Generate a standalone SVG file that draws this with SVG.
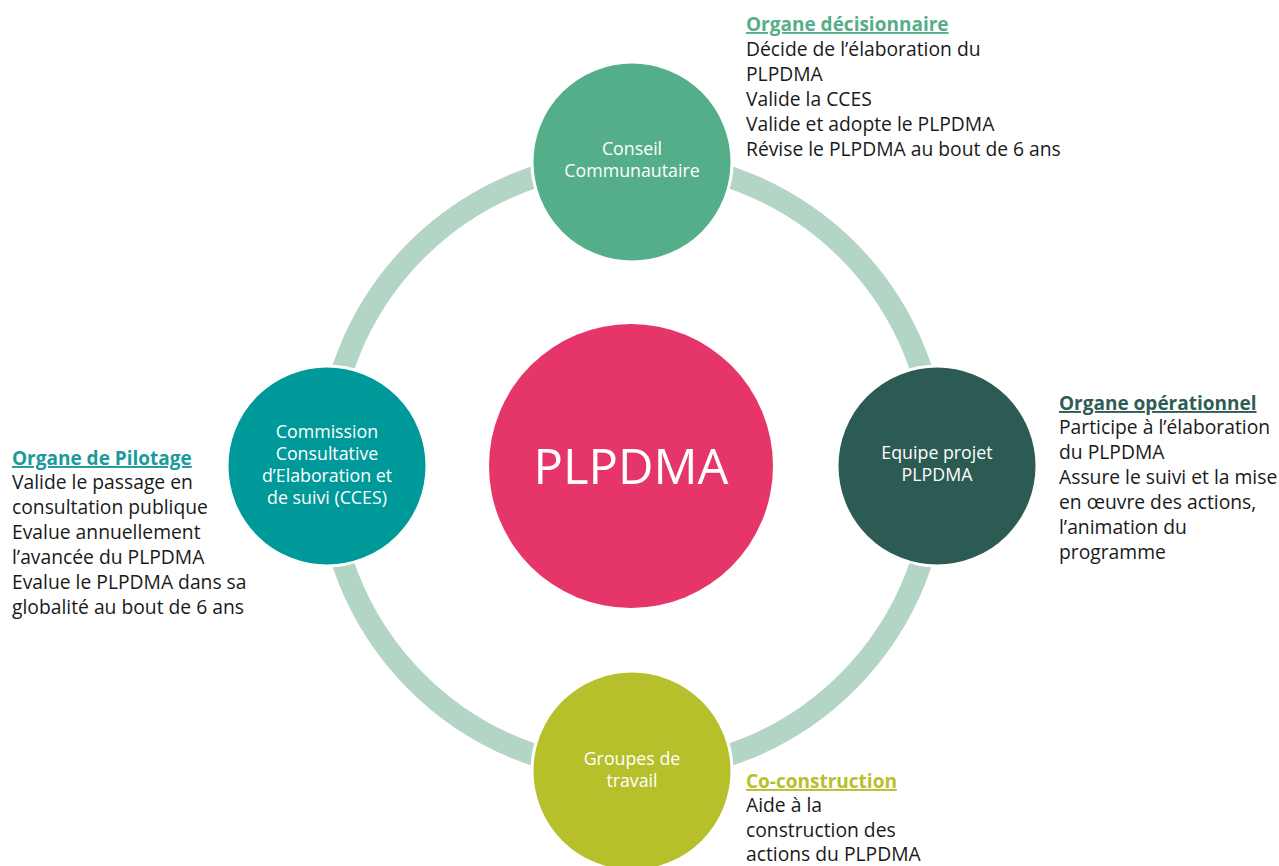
<svg xmlns="http://www.w3.org/2000/svg" width="1279" height="866" viewBox="0 0 1279 866">
<style>
.node{stroke:#fff;stroke-width:3}
.lbl{font-family:"Open Sans","Noto Sans",sans-serif;font-size:17.8px;fill:#fff;text-anchor:middle}
.hd{font-family:"Open Sans","Noto Sans",sans-serif;font-size:19px;font-weight:bold;text-decoration:underline}
.bd{font-family:"Open Sans","Noto Sans",sans-serif;font-size:19.3px;fill:#1a1a1a}
</style>
<rect width="1279" height="866" fill="#fff"/>
<g id="connectors">
<circle cx="632" cy="466" r="305" fill="none" stroke="#b3d5c5" stroke-width="22"/>
</g>
<g id="center">
<circle cx="631" cy="466" r="142" fill="#e63568"/>
<text x="631" y="484" font-family="'Open Sans','Noto Sans',sans-serif" font-size="49" fill="#fff" text-anchor="middle">PLPDMA</text>
</g>
<g id="conseil">
<circle class="node" cx="632" cy="162" r="100" fill="#54ae89"/>
<text class="lbl" x="632" y="155">Conseil</text>
<text class="lbl" x="632" y="177">Communautaire</text>
</g>
<g id="equipe">
<circle class="node" cx="937" cy="466" r="100" fill="#2c5b54"/>
<text class="lbl" x="937" y="459">Equipe projet</text>
<text class="lbl" x="937" y="481">PLPDMA</text>
</g>
<g id="groupes">
<circle class="node" cx="632" cy="771" r="100" fill="#b5c02b"/>
<text class="lbl" x="632" y="765">Groupes de</text>
<text class="lbl" x="632" y="787">travail</text>
</g>
<g id="cces">
<circle class="node" cx="327" cy="466" r="100" fill="#009999"/>
<text class="lbl" x="327" y="438">Commission</text>
<text class="lbl" x="327" y="460">Consultative</text>
<text class="lbl" x="327" y="482">d’Elaboration et</text>
<text class="lbl" x="327" y="504">de suivi (CCES)</text>
</g>
<g id="txt-decision">
<text class="hd" x="746" y="31" fill="#55ae88">Organe décisionnaire</text>
<text class="bd" x="746" y="56">Décide de l’élaboration du</text>
<text class="bd" x="746" y="81">PLPDMA</text>
<text class="bd" x="746" y="106">Valide la CCES</text>
<text class="bd" x="746" y="131">Valide et adopte le PLPDMA</text>
<text class="bd" x="746" y="156">Révise le PLPDMA au bout de 6 ans</text>
</g>
<g id="txt-pilotage">
<text class="hd" x="12" y="465" fill="#1a9b9b">Organe de Pilotage</text>
<text class="bd" x="12" y="489">Valide le passage en</text>
<text class="bd" x="12" y="514">consultation publique</text>
<text class="bd" x="12" y="539">Evalue annuellement</text>
<text class="bd" x="12" y="564">l’avancée du PLPDMA</text>
<text class="bd" x="12" y="589">Evalue le PLPDMA dans sa</text>
<text class="bd" x="12" y="614">globalité au bout de 6 ans</text>
</g>
<g id="txt-operationnel">
<text class="hd" x="1059" y="410" fill="#2e5c55">Organe opérationnel</text>
<text class="bd" x="1059" y="434">Participe à l’élaboration</text>
<text class="bd" x="1059" y="459">du PLPDMA</text>
<text class="bd" x="1059" y="484">Assure le suivi et la mise</text>
<text class="bd" x="1059" y="509">en œuvre des actions,</text>
<text class="bd" x="1059" y="534">l’animation du</text>
<text class="bd" x="1059" y="559">programme</text>
</g>
<g id="txt-coconstruction">
<text class="hd" x="746" y="788" fill="#b5c02b">Co-construction</text>
<text class="bd" x="746" y="812">Aide à la</text>
<text class="bd" x="746" y="837">construction des</text>
<text class="bd" x="746" y="861">actions du PLPDMA</text>
</g>
</svg>
